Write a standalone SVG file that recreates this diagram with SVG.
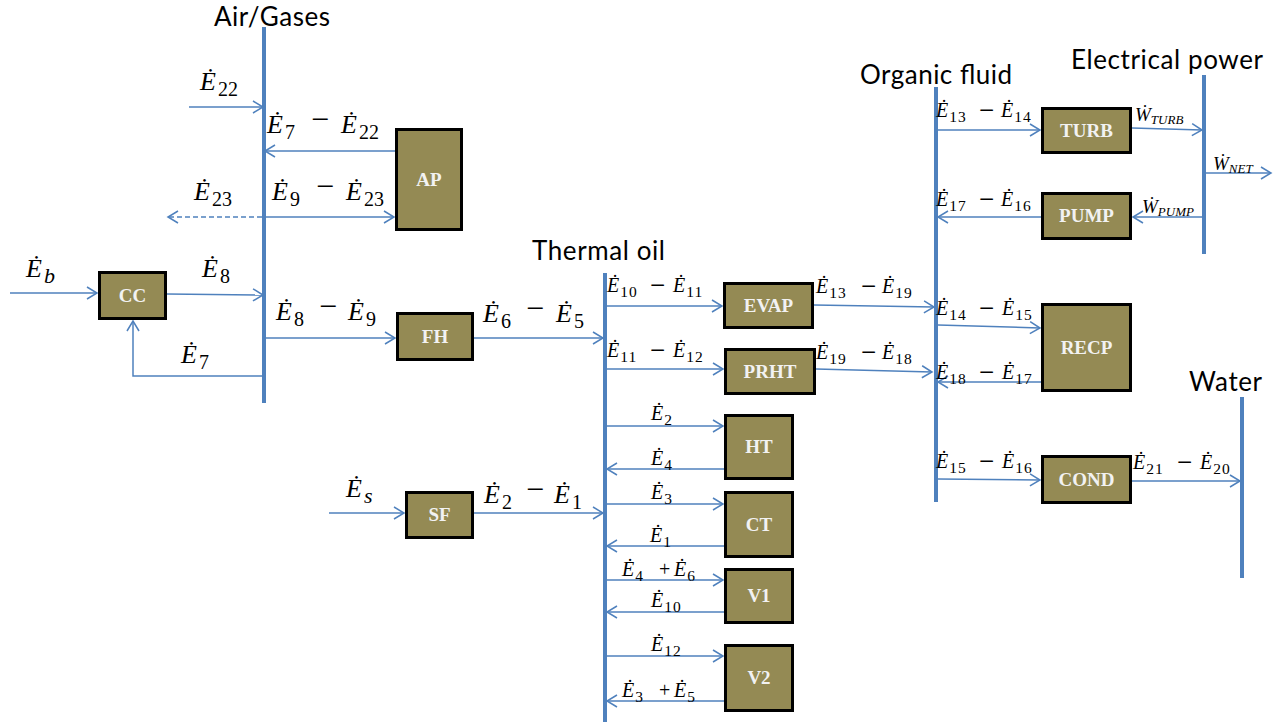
<svg xmlns="http://www.w3.org/2000/svg" width="1288" height="724" viewBox="0 0 1288 724">
<style>
.bus{stroke:#4F81BD;stroke-width:4;fill:none}
.c{stroke:#4F81BD;stroke-width:1.5;fill:none;marker-end:url(#ah)}
.dash{stroke-dasharray:5 3}
.box{fill:#948A54;stroke:#000;stroke-width:3}
.bl{font-family:"Liberation Serif",serif;font-weight:bold;font-size:19px;fill:#F2F2F2;text-anchor:middle}
.t{font-family:Lato,"Liberation Sans",sans-serif;font-size:26px;fill:#000}
.m{font-family:"Liberation Serif","DejaVu Serif",serif;font-style:italic;fill:#000}
.big{font-size:26px}
.sm{font-size:20px}
.w{font-size:19px}
.n{font-style:normal}
.bs{font-size:20px;font-style:normal}
.ss{font-size:15.5px;font-style:normal;letter-spacing:1px}
.bm{font-size:32px;font-style:normal}
.smm{font-size:27px;font-style:normal}
</style>
<defs>
<marker id="ah" markerUnits="userSpaceOnUse" markerWidth="12" markerHeight="14" refX="10" refY="6" orient="auto" overflow="visible">
<path d="M0,0 L10,6 L0,12" fill="none" stroke="#4F81BD" stroke-width="1.5"/>
</marker>
</defs>

<g id="buses">
<g id="bus-air"><line class="bus" x1="264" y1="27" x2="264" y2="403"/><text class="t" x="214" y="26" textLength="116">Air/Gases</text></g>
<g id="bus-oil"><line class="bus" x1="605" y1="273" x2="605" y2="722"/><text class="t" x="532" y="260" textLength="133">Thermal oil</text></g>
<g id="bus-org"><line class="bus" x1="936" y1="87" x2="936" y2="502"/><text class="t" x="860" y="84" textLength="152">Organic fluid</text></g>
<g id="bus-elec"><line class="bus" x1="1204" y1="75" x2="1204" y2="254"/><text class="t" x="1071" y="69" textLength="192">Electrical power</text></g>
<g id="bus-water"><line class="bus" x1="1242" y1="397" x2="1242" y2="578"/><text class="t" x="1189" y="391" textLength="73">Water</text></g>
</g>

<g id="connectors">
<line class="c" x1="189" y1="107" x2="263" y2="107"/>
<line class="c" x1="395" y1="151" x2="265" y2="151"/>
<line class="c dash" x1="262" y1="217" x2="168" y2="217"/>
<line class="c" x1="266" y1="217" x2="394" y2="217"/>
<line class="c" x1="10" y1="293" x2="97" y2="293"/>
<line class="c" x1="167" y1="294" x2="263" y2="295"/>
<line class="c" x1="266" y1="338" x2="395" y2="338"/>
<polyline class="c" points="263,376 133,376 133,321"/>
<line class="c" x1="474" y1="338" x2="603" y2="338"/>
<line class="c" x1="329" y1="513" x2="404" y2="513"/>
<line class="c" x1="474" y1="513" x2="603" y2="513"/>
<line class="c" x1="607" y1="306" x2="722" y2="306"/>
<line class="c" x1="607" y1="369" x2="723" y2="369"/>
<line class="c" x1="607" y1="426" x2="723" y2="426"/>
<line class="c" x1="724" y1="469" x2="607" y2="469"/>
<line class="c" x1="607" y1="504" x2="723" y2="504"/>
<line class="c" x1="724" y1="546" x2="607" y2="546"/>
<line class="c" x1="607" y1="580" x2="723" y2="580"/>
<line class="c" x1="724" y1="612" x2="607" y2="612"/>
<line class="c" x1="607" y1="656" x2="723" y2="656"/>
<line class="c" x1="724" y1="701" x2="607" y2="701"/>
<line class="c" x1="814" y1="305" x2="934" y2="307"/>
<line class="c" x1="816" y1="369" x2="932" y2="372"/>
<line class="c" x1="938" y1="130" x2="1040" y2="130"/>
<line class="c" x1="1132" y1="128" x2="1202" y2="130"/>
<line class="c" x1="1206" y1="173" x2="1271" y2="173"/>
<line class="c" x1="1041" y1="217" x2="938" y2="217"/>
<line class="c" x1="1202" y1="217" x2="1133" y2="217"/>
<line class="c" x1="938" y1="325" x2="1040" y2="328"/>
<line class="c" x1="1041" y1="382" x2="938" y2="382"/>
<line class="c" x1="938" y1="479" x2="1040" y2="480"/>
<line class="c" x1="1132" y1="481" x2="1240" y2="481"/>
</g>

<g id="AP"><rect class="box" x="396.5" y="129.5" width="65" height="100"/><text class="bl" x="429" y="186">AP</text></g>
<g id="CC"><rect class="box" x="99.5" y="272.5" width="66" height="46"/><text class="bl" x="132.5" y="302">CC</text></g>
<g id="FH"><rect class="box" x="397.5" y="313.5" width="75" height="46"/><text class="bl" x="435" y="343">FH</text></g>
<g id="SF"><rect class="box" x="406.5" y="492.5" width="66" height="45"/><text class="bl" x="439.5" y="521">SF</text></g>
<g id="EVAP"><rect class="box" x="724.5" y="283.5" width="88" height="44"/><text class="bl" x="768.5" y="312">EVAP</text></g>
<g id="PRHT"><rect class="box" x="725.5" y="349.5" width="89" height="44"/><text class="bl" x="770" y="378">PRHT</text></g>
<g id="HT"><rect class="box" x="725.5" y="415.5" width="67" height="63"/><text class="bl" x="759" y="453">HT</text></g>
<g id="CT"><rect class="box" x="725.5" y="492.5" width="67" height="64"/><text class="bl" x="759" y="531">CT</text></g>
<g id="V1"><rect class="box" x="725.5" y="569.5" width="67" height="53"/><text class="bl" x="759" y="602">V1</text></g>
<g id="V2"><rect class="box" x="725.5" y="645.5" width="67" height="65"/><text class="bl" x="759" y="684">V2</text></g>
<g id="TURB"><rect class="box" x="1042.5" y="108.5" width="88" height="44"/><text class="bl" x="1086.5" y="137">TURB</text></g>
<g id="PUMP"><rect class="box" x="1042.5" y="193.5" width="88" height="45"/><text class="bl" x="1086.5" y="222">PUMP</text></g>
<g id="RECP"><rect class="box" x="1042.5" y="304.5" width="88" height="86"/><text class="bl" x="1086.5" y="354">RECP</text></g>
<g id="COND"><rect class="box" x="1042.5" y="456.5" width="88" height="46"/><text class="bl" x="1086.5" y="486">COND</text></g>

<g id="labels">
<text class="m big" x="200" y="90">Ė<tspan class="bs" dx="2" dy="6">22</tspan></text>
<text class="m big" x="267" y="133">Ė<tspan class="bs" dx="2" dy="6">7</tspan><tspan class="bm" x="311" dy="-9">−</tspan><tspan x="341" dy="3">Ė</tspan><tspan class="bs" dx="2" dy="6">22</tspan></text>
<text class="m big" x="194" y="200">Ė<tspan class="bs" dx="2" dy="6">23</tspan></text>
<text class="m big" x="272" y="200">Ė<tspan class="bs" dx="2" dy="6">9</tspan><tspan class="bm" x="316" dy="-9">−</tspan><tspan x="346" dy="3">Ė</tspan><tspan class="bs" dx="2" dy="6">23</tspan></text>
<text class="m big" x="26" y="277">Ė<tspan font-size="22" dx="2" dy="6">b</tspan></text>
<text class="m big" x="202" y="277">Ė<tspan class="bs" dx="2" dy="6">8</tspan></text>
<text class="m big" x="276" y="320">Ė<tspan class="bs" dx="2" dy="6">8</tspan><tspan class="bm" x="319" dy="-9">−</tspan><tspan x="348" dy="3">Ė</tspan><tspan class="bs" dx="2" dy="6">9</tspan></text>
<text class="m big" x="181" y="363">Ė<tspan class="bs" dx="2" dy="6">7</tspan></text>
<text class="m big" x="483" y="322">Ė<tspan class="bs" dx="2" dy="6">6</tspan><tspan class="bm" x="526" dy="-9">−</tspan><tspan x="556" dy="3">Ė</tspan><tspan class="bs" dx="2" dy="6">5</tspan></text>
<text class="m big" x="346" y="497">Ė<tspan font-size="22" dx="2" dy="6">s</tspan></text>
<text class="m big" x="484" y="503">Ė<tspan class="bs" dx="2" dy="6">2</tspan><tspan class="bm" x="526" dy="-9">−</tspan><tspan x="554" dy="3">Ė</tspan><tspan class="bs" dx="2" dy="6">1</tspan></text>

<text class="m sm" x="607" y="292">Ė<tspan class="ss" dx="1" dy="5">10</tspan><tspan class="smm" x="650" dy="-3">−</tspan><tspan x="673" dy="-2">Ė</tspan><tspan class="ss" dx="1" dy="5">11</tspan></text>
<text class="m sm" x="607" y="357">Ė<tspan class="ss" dx="1" dy="5">11</tspan><tspan class="smm" x="650" dy="-3">−</tspan><tspan x="673" dy="-2">Ė</tspan><tspan class="ss" dx="1" dy="5">12</tspan></text>
<text class="m sm" x="816" y="293">Ė<tspan class="ss" dx="1" dy="5">13</tspan><tspan class="smm" x="861" dy="-3">−</tspan><tspan x="882" dy="-2">Ė</tspan><tspan class="ss" dx="1" dy="5">19</tspan></text>
<text class="m sm" x="816" y="359">Ė<tspan class="ss" dx="1" dy="5">19</tspan><tspan class="smm" x="861" dy="-3">−</tspan><tspan x="882" dy="-2">Ė</tspan><tspan class="ss" dx="1" dy="5">18</tspan></text>
<text class="m sm" x="651" y="420">Ė<tspan class="ss" dx="1" dy="5">2</tspan></text>
<text class="m sm" x="651" y="465">Ė<tspan class="ss" dx="1" dy="5">4</tspan></text>
<text class="m sm" x="651" y="499">Ė<tspan class="ss" dx="1" dy="5">3</tspan></text>
<text class="m sm" x="650" y="542">Ė<tspan class="ss" dx="1" dy="5">1</tspan></text>
<text class="m sm" x="622" y="576">Ė<tspan class="ss" dx="1" dy="5">4</tspan><tspan class="n" x="659" dy="-5">+</tspan><tspan x="674">Ė</tspan><tspan class="ss" dx="1" dy="5">6</tspan></text>
<text class="m sm" x="651" y="607">Ė<tspan class="ss" dx="1" dy="5">10</tspan></text>
<text class="m sm" x="651" y="651">Ė<tspan class="ss" dx="1" dy="5">12</tspan></text>
<text class="m sm" x="622" y="697">Ė<tspan class="ss" dx="1" dy="5">3</tspan><tspan class="n" x="659" dy="-5">+</tspan><tspan x="674">Ė</tspan><tspan class="ss" dx="1" dy="5">5</tspan></text>
<text class="m sm" x="936" y="117">Ė<tspan class="ss" dx="1" dy="5">13</tspan><tspan class="smm" x="979" dy="-3">−</tspan><tspan x="1001" dy="-2">Ė</tspan><tspan class="ss" dx="1" dy="5">14</tspan></text>
<text class="m sm" x="936" y="206">Ė<tspan class="ss" dx="1" dy="5">17</tspan><tspan class="smm" x="979" dy="-3">−</tspan><tspan x="1001" dy="-2">Ė</tspan><tspan class="ss" dx="1" dy="5">16</tspan></text>
<text class="m sm" x="936" y="315">Ė<tspan class="ss" dx="1" dy="5">14</tspan><tspan class="smm" x="979" dy="-3">−</tspan><tspan x="1002" dy="-2">Ė</tspan><tspan class="ss" dx="1" dy="5">15</tspan></text>
<text class="m sm" x="936" y="379">Ė<tspan class="ss" dx="1" dy="5">18</tspan><tspan class="smm" x="979" dy="-3">−</tspan><tspan x="1002" dy="-2">Ė</tspan><tspan class="ss" dx="1" dy="5">17</tspan></text>
<text class="m sm" x="936" y="468">Ė<tspan class="ss" dx="1" dy="5">15</tspan><tspan class="smm" x="979" dy="-3">−</tspan><tspan x="1002" dy="-2">Ė</tspan><tspan class="ss" dx="1" dy="5">16</tspan></text>
<text class="m sm" x="1133" y="469">Ė<tspan class="ss" dx="1" dy="5">21</tspan><tspan class="smm" x="1177" dy="-3">−</tspan><tspan x="1200" dy="-2">Ė</tspan><tspan class="ss" dx="1" dy="5">20</tspan></text>

<text class="m w" x="1135" y="121">Ẇ<tspan font-size="13" dy="3">TURB</tspan></text>
<text class="m w" x="1213" y="170">Ẇ<tspan font-size="13" dy="3">NET</tspan></text>
<text class="m w" x="1142" y="213">Ẇ<tspan font-size="13" dy="3">PUMP</tspan></text>
</g>
</svg>
